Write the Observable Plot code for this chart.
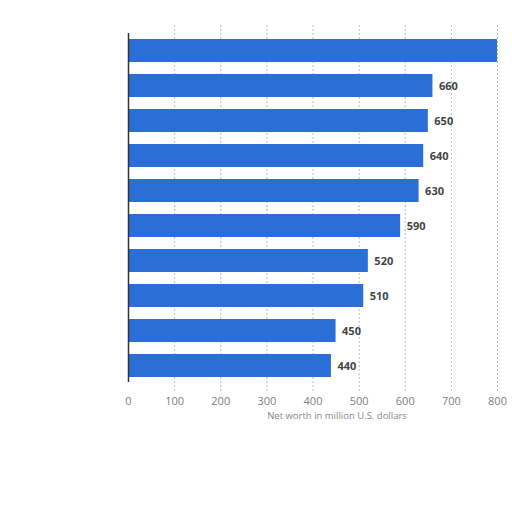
<!DOCTYPE html>
<html>
<head>
<meta charset="utf-8">
<script src="https://cdn.jsdelivr.net/npm/d3@7"></script>
<script src="https://cdn.jsdelivr.net/npm/@observablehq/plot@0.6"></script>
<style>
  html, body { margin: 0; padding: 0; background: #fff; }
  #chart { width: 512px; }
</style>
</head>
<body>
<div id="chart"></div>
<script>
const categories = ["Rank 1", "Rank 2", "Rank 3", "Rank 4", "Rank 5", "Rank 6", "Rank 7", "Rank 8", "Rank 9", "Rank 10"];
const values = [800, 660, 650, 640, 630, 590, 520, 510, 450, 440];
const showLabel = [false, true, true, true, true, true, true, true, true, true];
const xTicks = [0, 100, 200, 300, 400, 500, 600, 700, 800];
const xLabel = "Net worth in million U.S. dollars";

const data = categories.map((c, i) => ({category: c, value: values[i], show: showLabel[i]}));

const chart = Plot.plot({
  width: 512,
  height: 432,
  marginLeft: 128,
  marginRight: 15,
  marginTop: 25,
  marginBottom: 41,
  style: {fontFamily: "'Open Sans', 'DejaVu Sans', sans-serif", background: "#fff"},
  x: {domain: [0, 800], ticks: xTicks, label: null},
  y: {domain: categories, padding: 0.35, axis: null},
  marks: [
    Plot.ruleX(xTicks.slice(1), {y1: 0, y2: 0, stroke: "#cfcfcf", strokeDasharray: "2,2", strokeWidth: 1}),
    Plot.gridX(xTicks.slice(1), {stroke: "#bbbbbb", strokeDasharray: "2,2", strokeOpacity: 1}),
    Plot.barX(data, {x: "value", y: "category", fill: "#2a6fd8"}),
    Plot.ruleX([0], {stroke: "#333", strokeWidth: 1.5, insetTop: 8, insetBottom: 9}),
    Plot.text(data.filter(d => d.show), {
      x: "value", y: "category", text: d => String(d.value),
      textAnchor: "start", dx: 6, fill: "#444", fontSize: 11, fontWeight: "bold"
    }),
    Plot.axisX({ticks: xTicks, tickSize: 0, tickPadding: 6, fontSize: 11, color: "#808080", label: null}),
    Plot.text([xLabel], {frameAnchor: "bottom", dx: 24, dy: 27, fill: "#888", fontSize: 9.5})
  ]
});
document.getElementById("chart").appendChild(chart);
</script>
</body>
</html>
